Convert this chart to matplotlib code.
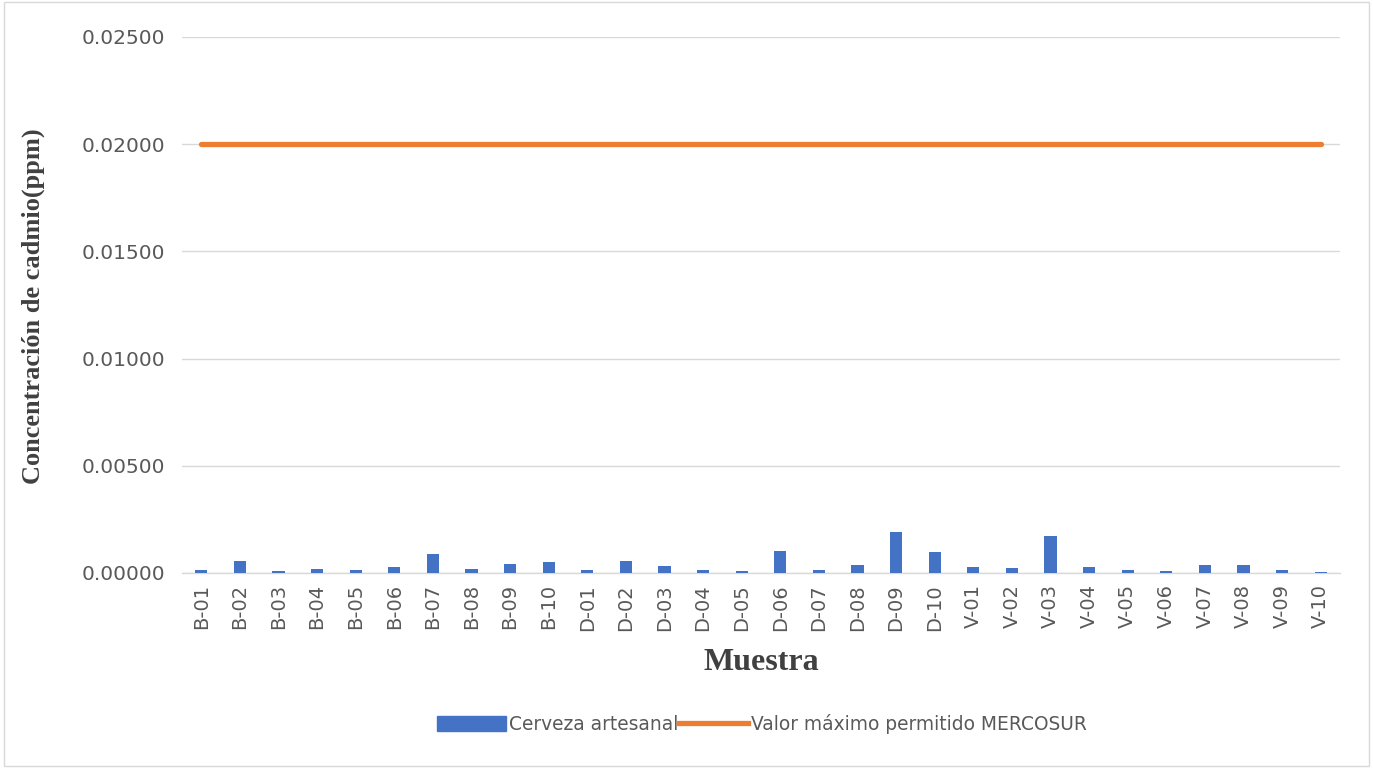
import matplotlib
matplotlib.use("Agg")
import matplotlib.pyplot as plt
from matplotlib.patches import Rectangle
from matplotlib.lines import Line2D

categories = ["B-01","B-02","B-03","B-04","B-05","B-06","B-07","B-08","B-09","B-10",
              "D-01","D-02","D-03","D-04","D-05","D-06","D-07","D-08","D-09","D-10",
              "V-01","V-02","V-03","V-04","V-05","V-06","V-07","V-08","V-09","V-10"]
cerveza = [0.00016,0.00056,0.00010,0.00019,0.00016,0.00030,0.00089,0.00017,0.00042,0.00050,
           0.00016,0.00056,0.00034,0.00014,0.00011,0.00104,0.00014,0.00039,0.00191,0.00099,
           0.00028,0.00023,0.00174,0.00030,0.00014,0.00010,0.00036,0.00039,0.00014,0.00006]
limite = [0.02] * len(categories)
yticks = [0.0, 0.005, 0.010, 0.015, 0.020, 0.025]

fig = plt.figure(figsize=(13.73, 7.68), dpi=100)
ax = fig.add_axes([182/1373, 1-573/768, (1340-182)/1373, (573-37)/768])

x = list(range(len(categories)))
ax.bar(x, cerveza, width=0.32, color="#4472C4", zorder=3)
ax.plot(x, limite, color="#ED7D31", linewidth=3.8, solid_capstyle="round", zorder=4)

ax.set_xlim(-0.5, len(categories) - 0.5)
ax.set_ylim(0, 0.025)
ax.set_yticks(yticks)
ax.set_yticklabels([f"{v:.5f}" for v in yticks], fontsize=14.5, color="#595959")
ax.set_xticks(x)
ax.set_xticklabels(categories, rotation=90, fontsize=14, color="#595959")
ax.tick_params(axis="y", length=0, pad=12)
ax.tick_params(axis="x", length=0, pad=8)
ax.grid(axis="y", color="#D9D9D9", linewidth=1, zorder=0)
for s in ["top", "right", "left"]:
    ax.spines[s].set_visible(False)
ax.spines["bottom"].set_color("#D9D9D9")
ax.spines["bottom"].set_linewidth(1)

fig.text(761/1373, 1-662/768, "Muestra", fontsize=23, fontweight="bold",
         family="Liberation Serif", color="#404040", ha="center", va="center")
fig.text(33/1373, 1-306/768, "Concentración de cadmio(ppm)", fontsize=19, fontweight="bold",
         family="Liberation Serif", color="#404040", rotation=90, ha="center", va="center")

handles = [Rectangle((0, 0), 1, 1, color="#4472C4"),
           Line2D([0], [0], color="#ED7D31", linewidth=3.8)]
leg = fig.legend(handles, ["Cerveza artesanal", "Valor máximo permitido MERCOSUR"],
                 loc="center", bbox_to_anchor=(762/1373, 1-724/768), ncol=2, frameon=False,
                 fontsize=13.4, handlelength=3.7, handleheight=0.9, handletextpad=0.15,
                 columnspacing=0.05)
for t in leg.get_texts():
    t.set_color("#595959")

border = Rectangle((0.003, 0.003), 0.994, 0.994, transform=fig.transFigure,
                   fill=False, edgecolor="#D9D9D9", linewidth=1)
fig.patches.append(border)

fig.savefig("out.png", dpi=100, facecolor="white")
